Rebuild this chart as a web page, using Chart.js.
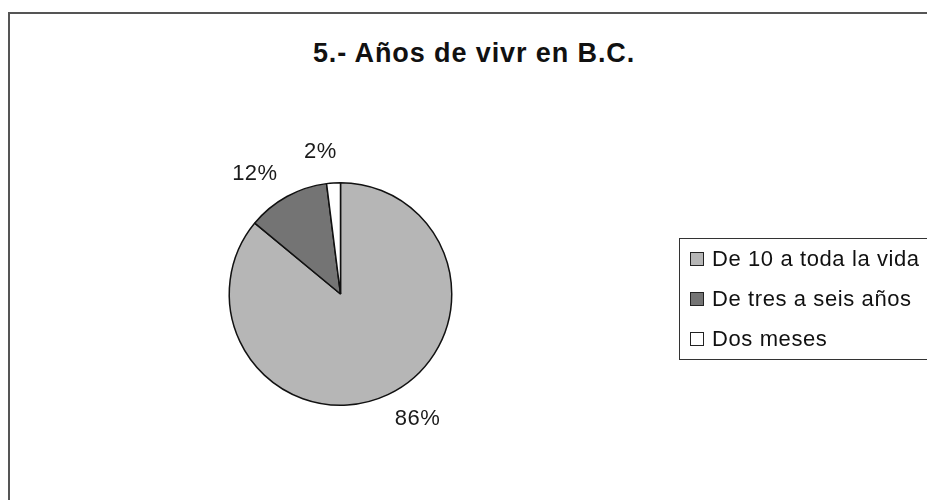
<!DOCTYPE html>
<html>
<head>
<meta charset="utf-8">
<script src="https://cdn.jsdelivr.net/npm/chart.js@4/dist/chart.umd.min.js"></script>
<style>
    html, body { margin: 0; padding: 0; background: #fff; overflow: hidden; }
    body { width: 927px; height: 500px; position: relative; font-family: "Liberation Sans", Arial, sans-serif; color: #111; }
    #frame { position: absolute; left: 8px; top: 12px; width: 940px; height: 520px; border-left: 2px solid #555; border-top: 2px solid #555; }
    #title { position: absolute; left: 0; top: 40px; width: 948px; text-align: center; font-weight: bold; font-size: 27px; line-height: 27px; letter-spacing: 0.9px; }
    #chart-wrap { position: absolute; left: 0; top: 0; width: 927px; height: 500px; }
    #legend { position: absolute; left: 679px; top: 238px; width: 270px; border: 1.5px solid #333; font-size: 22px; letter-spacing: 0.6px; }
    #legend .row { height: 40px; display: flex; align-items: center; padding-left: 10px; }
    #legend .box { width: 12px; height: 12px; border: 1.5px solid #222; margin-right: 8px; }
</style>
</head>
<body>
<div id="frame"></div>
<div id="title"></div>
<div id="chart-wrap"><canvas id="pieChart" width="927" height="500"></canvas></div>
<div id="legend"></div>

<script>
    // Data
    const chartTitle = '5.- Años de vivr en B.C.';
    const categories = ['De 10 a toda la vida', 'De tres a seis años', 'Dos meses'];
    const percents = [86, 12, 2];
    const sliceColors = ['#b6b6b6', '#747474', '#ffffff'];

    document.getElementById('title').textContent = chartTitle;

    // Percent labels outside each slice, Excel style
    const outsideLabels = {
        id: 'outsideLabels',
        afterDatasetsDraw(chart) {
            const ctx = chart.ctx;
            const meta = chart.getDatasetMeta(0);
            const total = percents.reduce((a, b) => a + b, 0);
            const shift = -4 * Math.PI / 180;
            ctx.save();
            ctx.font = '22px "Liberation Sans", Arial, sans-serif';
            ctx.letterSpacing = '0.5px';
            ctx.fillStyle = '#1a1a1a';
            ctx.textAlign = 'center';
            ctx.textBaseline = 'middle';
            meta.data.forEach((arc, i) => {
                const mid = (arc.startAngle + arc.endAngle) / 2 + shift;
                const r = arc.outerRadius + 24;
                const text = Math.round(percents[i] / total * 100) + '%';
                const w = ctx.measureText(text).width;
                const h = 16;
                const ax = arc.x + Math.cos(mid) * r;
                const ay = arc.y + Math.sin(mid) * r;
                ctx.fillText(text, ax + Math.cos(mid) * w / 2, ay + Math.sin(mid) * h / 2);
            });
            ctx.restore();
        }
    };

    const chart = new Chart(document.getElementById('pieChart'), {
        type: 'pie',
        data: {
            labels: categories,
            datasets: [{
                data: percents,
                backgroundColor: sliceColors,
                borderColor: '#111',
                borderWidth: 1.5
            }]
        },
        options: {
            responsive: false,
            animation: false,
            layout: { padding: { left: 228, right: 474, top: 182, bottom: 94 } },
            plugins: {
                legend: { display: false },
                title: { display: false },
                tooltip: { enabled: false }
            }
        },
        plugins: [outsideLabels]
    });

    // Legend built from the chart's own labels and colours
    const legend = document.getElementById('legend');
    chart.data.labels.forEach((label, i) => {
        const row = document.createElement('div');
        row.className = 'row';
        const box = document.createElement('span');
        box.className = 'box';
        box.style.background = sliceColors[i];
        const txt = document.createElement('span');
        txt.textContent = label;
        row.appendChild(box);
        row.appendChild(txt);
        legend.appendChild(row);
    });
</script>
</body>
</html>
